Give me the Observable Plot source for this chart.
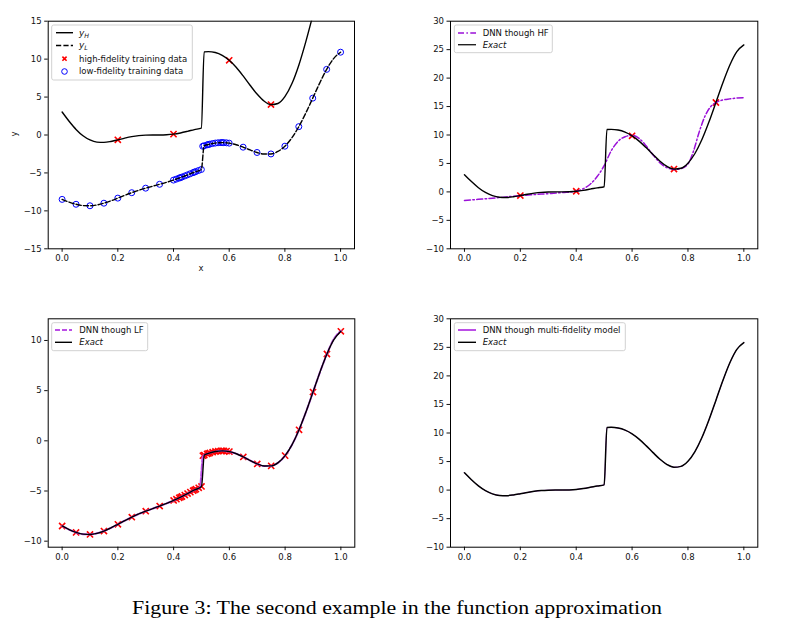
<!DOCTYPE html>
<html><head><meta charset="utf-8">
<script src="https://cdn.jsdelivr.net/npm/d3@7"></script>
<script src="https://cdn.jsdelivr.net/npm/@observablehq/plot@0.6"></script>
<style>
body{margin:0;background:#fff;}
#root{position:relative;width:801px;height:623px;background:#fff;overflow:hidden;}
#root svg{position:absolute;}
</style></head><body><div id="root"></div>
<script>
// ---- data ----
const xs = [0,0.025,0.05,0.075,0.1,0.125,0.15,0.175,0.2,0.225,0.25,0.275,0.3,0.325,0.35,0.375,0.4,0.425,0.45,0.475,0.5,0.51,0.525,0.55,0.575,0.6,0.625,0.65,0.675,0.7,0.725,0.75,0.775,0.8,0.825,0.85,0.875,0.9,0.925,0.95,0.975,1.0];
const yH = [3.028,1.814,0.738,-0.100,-0.656,-0.936,-0.978,-0.854,-0.640,-0.408,-0.210,-0.078,-0.016,0.000,0.002,0.030,0.114,0.270,0.482,0.716,0.910,10.958,10.986,10.872,10.502,9.850,8.926,7.790,6.560,5.394,4.478,4.006,4.156,5.050,6.746,9.200,12.272,15.712,19.188,22.304,24.648,25.830];
const yL = [-8.486,-8.843,-9.131,-9.300,-9.328,-9.218,-8.989,-8.677,-8.320,-7.954,-7.605,-7.289,-7.008,-6.750,-6.499,-6.235,-5.943,-5.615,-5.259,-4.892,-4.545,-1.421,-1.257,-1.064,-0.999,-1.075,-1.287,-1.605,-1.970,-2.303,-2.511,-2.497,-2.172,-1.475,-0.377,1.100,2.886,4.856,6.844,8.652,10.074,10.915];

const xHF = [0.2,0.4,0.6,0.75,0.9];
const yHF = [-0.640,0.114,9.850,4.006,15.712];

const xLF = [0,0.05,0.1,0.15,0.2,0.25,0.3,0.35,0.4,0.41,0.42,0.425,0.43,0.44,0.45,0.46,0.47,0.475,0.48,0.49,0.5,0.505,0.51,0.52,0.525,0.53,0.54,0.55,0.56,0.57,0.575,0.58,0.59,0.6,0.65,0.7,0.75,0.8,0.85,0.9,0.95,1.0];
const yLF = [-8.486,-9.131,-9.328,-8.989,-8.320,-7.605,-7.008,-6.499,-5.943,-5.816,-5.683,-5.615,-5.546,-5.404,-5.259,-5.112,-4.965,-4.892,-4.820,-4.679,-4.545,-1.482,-1.421,-1.308,-1.257,-1.210,-1.128,-1.064,-1.022,-1.001,-0.999,-1.003,-1.027,-1.075,-1.605,-2.303,-2.497,-1.475,1.100,4.856,8.652,10.915];

const xDNNHF = [0,0.05,0.1,0.15,0.2,0.25,0.3,0.35,0.4,0.425,0.45,0.475,0.5,0.525,0.55,0.575,0.6,0.625,0.65,0.675,0.7,0.725,0.75,0.775,0.8,0.82,0.84,0.86,0.88,0.9,0.92,0.95,0.975,1.0];
const yDNNHF = [-1.5,-1.3,-1.1,-0.88,-0.65,-0.47,-0.3,-0.12,0.1,0.55,1.35,2.7,4.6,7.2,8.9,9.7,9.95,9.4,8.1,6.5,5.1,4.25,3.95,4.1,4.9,7.2,10.5,13.2,14.9,15.7,16.1,16.35,16.5,16.55];

const xDNNLF = [0,0.025,0.05,0.075,0.1,0.125,0.15,0.175,0.2,0.225,0.25,0.275,0.3,0.325,0.35,0.375,0.4,0.425,0.45,0.475,0.495,0.5,0.505,0.525,0.55,0.575,0.6,0.625,0.65,0.675,0.7,0.725,0.75,0.775,0.8,0.825,0.85,0.875,0.9,0.925,0.95,0.975,1.0];
const yDNNLF = [-8.486,-8.843,-9.131,-9.300,-9.328,-9.218,-8.989,-8.677,-8.320,-7.954,-7.605,-7.289,-7.008,-6.750,-6.499,-6.235,-5.943,-5.615,-5.259,-4.892,-4.62,-3.0,-1.5,-1.257,-1.064,-0.999,-1.075,-1.287,-1.605,-1.970,-2.303,-2.511,-2.497,-2.172,-1.475,-0.377,1.100,2.886,4.856,6.844,8.652,10.15,10.95];

const yDNNMF = [3.028,1.814,0.738,-0.100,-0.656,-0.936,-0.978,-0.854,-0.640,-0.408,-0.210,-0.078,-0.016,0.000,0.002,0.030,0.114,0.270,0.482,0.716,0.910,10.958,10.986,10.872,10.502,9.850,8.926,7.790,6.560,5.394,4.478,4.006,4.156,5.050,6.746,9.200,12.272,15.712,19.188,22.304,24.648,25.830];

const xTicks = [0,0.2,0.4,0.6,0.8,1.0];
const yTicks1 = [-15,-10,-5,0,5,10,15];
const yTicks2 = [-10,-5,0,5,10,15,20,25,30];
const yTicks3 = [-10,-5,0,5,10];

const legend1 = ["y_H","y_L","high-fidelity training data","low-fidelity training data"];
const legend2 = ["DNN though HF","Exact"];
const legend3 = ["DNN though LF","Exact"];
const legend4 = ["DNN though multi-fidelity model","Exact"];
const captionText = "Figure 3: The second example in the function approximation";

// ---- build ----
const rows = (xa, ya) => xa.map((x, i) => ({x, y: ya[i]}));
const H = rows(xs, yH), L = rows(xs, yL), HF = rows(xHF, yHF), LF = rows(xLF, yLF);
const DH = rows(xDNNHF, yDNNHF), DL = rows(xDNNLF, yDNNLF), DM = rows(xs, yDNNMF);

const root = document.getElementById("root");
const PURPLE = "#9a10d8", LPURPLE = "#bb4ee6";

function panel(spec, marks) {
  const svg = Plot.plot({
    width: spec.w, height: spec.h,
    marginLeft: spec.ml, marginRight: spec.mr, marginTop: spec.mt, marginBottom: spec.mb,
    x: {domain: [-0.05, 1.05], ticks: xTicks, tickFormat: d3.format(".1f"), tickSize: 3.5, tickPadding: 3, label: null},
    y: {domain: spec.yDomain, ticks: spec.yTicks, tickFormat: d3.format("d"), tickSize: 3.5, tickPadding: 3, label: null},
    style: {fontFamily: "DejaVu Sans", fontSize: "8.5px", color: "#111", background: "transparent", overflow: "visible"},
    marks: [...marks, Plot.frame({stroke: "#000", strokeWidth: 1})]
  });
  svg.style.left = spec.left + "px";
  svg.style.top = spec.top + "px";
  root.appendChild(svg);
}

const lineOpts = {x: "x", y: "y", curve: "monotone-x", clip: true};
const xMark = (data) => Plot.dot(data, {x: "x", y: "y", symbol: "times", r: 2.9, stroke: "red", strokeWidth: 1.6, clip: true});

panel({left: 0, top: 0, w: 400, h: 290, ml: 47.7, mr: 46, mt: 20.7, mb: 41.7, yDomain: [-15, 15], yTicks: yTicks1}, [
  Plot.dot(LF, {x: "x", y: "y", r: 3, stroke: "blue", fill: "none", strokeWidth: 1}),
  xMark(HF),
  Plot.line(H, {...lineOpts, stroke: "#000", strokeWidth: 1.4}),
  Plot.line(L, {...lineOpts, stroke: "#000", strokeWidth: 1.4, strokeDasharray: "5.2,2.2"})
]);

panel({left: 400, top: 0, w: 401, h: 290, ml: 50, mr: 43.7, mt: 20.7, mb: 41.7, yDomain: [-10, 30], yTicks: yTicks2}, [
  xMark(HF),
  Plot.line(DH, {...lineOpts, stroke: PURPLE, strokeWidth: 1.5, strokeDasharray: "6,2.4,1.5,2.4"}),
  Plot.line(H, {...lineOpts, stroke: "#000", strokeWidth: 1.4})
]);

panel({left: 0, top: 300, w: 400, h: 270, ml: 47.7, mr: 45.7, mt: 18.3, mb: 23.3, yDomain: [-10.6, 12.16], yTicks: yTicks3}, [
  xMark(LF),
  Plot.line(DL, {...lineOpts, stroke: LPURPLE, strokeWidth: 2, strokeDasharray: "5,2"}),
  Plot.line(L, {...lineOpts, stroke: "#000", strokeWidth: 1.4})
]);

panel({left: 400, top: 300, w: 401, h: 270, ml: 50, mr: 43.7, mt: 18.3, mb: 23.3, yDomain: [-10, 30], yTicks: yTicks2}, [
  Plot.line(DM, {...lineOpts, stroke: LPURPLE, strokeWidth: 1}),
  Plot.line(H, {...lineOpts, stroke: "#000", strokeWidth: 1.5})
]);

// ---- overlay: legends, axis labels, caption ----
const ov = d3.select(root).append("svg").attr("width", 801).attr("height", 623)
  .style("left", "0px").style("top", "0px")
  .attr("font-family", "DejaVu Sans").attr("font-size", 8.5);

function legend(box, sx0, sx1, tx, rowsY, items) {
  const g = ov.append("g");
  g.append("rect").attr("x", box[0]).attr("y", box[1]).attr("width", box[2] - box[0]).attr("height", box[3] - box[1])
    .attr("rx", 2).attr("fill", "#fff").attr("fill-opacity", 0.8).attr("stroke", "#ccc").attr("stroke-width", 0.9);
  items.forEach((it, i) => {
    const y = rowsY[i];
    if (it.kind === "line") {
      g.append("line").attr("x1", sx0).attr("x2", sx1).attr("y1", y).attr("y2", y)
        .attr("stroke", it.color).attr("stroke-width", it.width || 1.4).attr("stroke-dasharray", it.dash || null);
    } else if (it.kind === "x") {
      const cx = (sx0 + sx1) / 2, s = 2.1;
      g.append("path").attr("d", `M${cx - s},${y - s}L${cx + s},${y + s}M${cx - s},${y + s}L${cx + s},${y - s}`)
        .attr("stroke", "red").attr("stroke-width", 1.6);
    } else if (it.kind === "circle") {
      g.append("circle").attr("cx", (sx0 + sx1) / 2).attr("cy", y).attr("r", 2.8)
        .attr("fill", "none").attr("stroke", "blue").attr("stroke-width", 1);
    }
    const t = g.append("text").attr("x", tx).attr("y", y).attr("dy", "0.35em").attr("fill", "#111");
    if (it.label.includes("_")) {
      const [a, b] = it.label.split("_");
      t.append("tspan").attr("font-style", "italic").attr("font-size", 9).text(a);
      t.append("tspan").attr("font-style", "italic").attr("font-size", 6.3).attr("dy", "0.3em").text(b);
    } else {
      t.attr("font-style", it.italic ? "italic" : null).text(it.label);
    }
  });
}

legend([51.7, 25, 192.3, 80], 56, 73, 79, [32.7, 45.5, 58.7, 71.5], [
  {kind: "line", color: "#000", label: legend1[0]},
  {kind: "line", color: "#000", dash: "5.2,2.2", label: legend1[1]},
  {kind: "x", label: legend1[2]},
  {kind: "circle", label: legend1[3]}
]);
legend([454.3, 25, 552.3, 52.7], 458, 476, 482.7, [33, 44.7], [
  {kind: "line", color: PURPLE, width: 1.5, dash: "6,2.4,1.5,2.4", label: legend2[0]},
  {kind: "line", color: "#222", label: legend2[1], italic: true}
]);
legend([51.7, 322.7, 147.7, 350.7], 55, 72, 79.3, [330, 342.3], [
  {kind: "line", color: LPURPLE, width: 2, dash: "5,2", label: legend3[0]},
  {kind: "line", color: "#000", label: legend3[1], italic: true}
]);
legend([454.3, 322.7, 625.3, 350.7], 458, 476, 482.7, [330, 342.3], [
  {kind: "line", color: LPURPLE, width: 2, label: legend4[0]},
  {kind: "line", color: "#000", label: legend4[1], italic: true}
]);

ov.append("text").attr("x", 201).attr("y", 271).attr("text-anchor", "middle").attr("fill", "#111").text("x");
ov.append("text").attr("transform", "translate(17,134) rotate(-90)").attr("text-anchor", "middle").attr("fill", "#111").text("y");

ov.append("text").attr("x", 397).attr("y", 614).attr("text-anchor", "middle")
  .attr("font-family", "Liberation Serif, DejaVu Serif, serif").attr("font-size", 19.5)
  .attr("textLength", 530).attr("lengthAdjust", "spacingAndGlyphs").attr("fill", "#000").text(captionText);
</script>
</body></html>
